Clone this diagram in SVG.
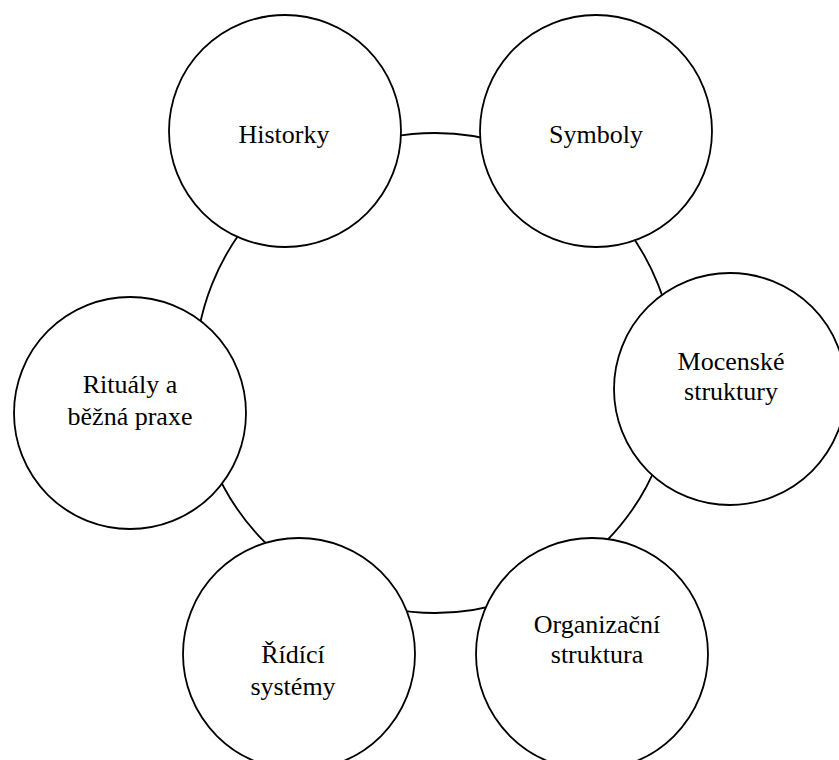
<svg xmlns="http://www.w3.org/2000/svg" width="839" height="760" viewBox="0 0 839 760">
<style>
.ring{fill:none;stroke:#000;stroke-width:1.8}
.node{fill:#fff;stroke:#000;stroke-width:1.8}
.lbl{font-family:"Liberation Serif","Times New Roman",serif;font-size:26px;fill:#000;text-anchor:middle}
</style>
<rect width="839" height="760" fill="#fff"/>
<g id="connectors">
<circle class="ring" cx="435" cy="373" r="240"/>
</g>
<g id="historky">
<circle class="node" cx="285" cy="131" r="116"/>
<text class="lbl" x="284" y="143">Historky</text>
</g>
<g id="symboly">
<circle class="node" cx="596" cy="131" r="116"/>
<text class="lbl" x="596" y="143">Symboly</text>
</g>
<g id="mocenske">
<circle class="node" cx="730" cy="389" r="116"/>
<text class="lbl" x="731" y="370">Mocenské</text>
<text class="lbl" x="731" y="400">struktury</text>
</g>
<g id="organizacni">
<circle class="node" cx="592" cy="654" r="116"/>
<text class="lbl" x="597" y="633">Organizační</text>
<text class="lbl" x="597" y="663">struktura</text>
</g>
<g id="ridici">
<circle class="node" cx="299" cy="654" r="116"/>
<text class="lbl" x="293" y="663">Řídící</text>
<text class="lbl" x="293" y="695">systémy</text>
</g>
<g id="ritualy">
<circle class="node" cx="130" cy="413" r="116"/>
<text class="lbl" x="130" y="393">Rituály a</text>
<text class="lbl" x="130" y="425">běžná praxe</text>
</g>
</svg>
